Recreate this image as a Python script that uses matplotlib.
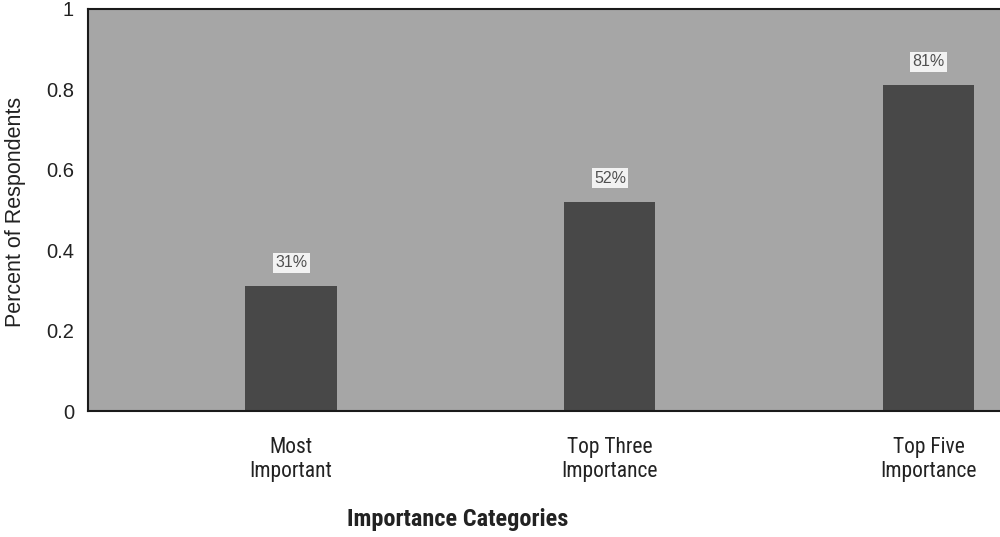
import matplotlib
matplotlib.use("Agg")
import matplotlib.pyplot as plt

categories = ["Most\nImportant", "Top Three\nImportance", "Top Five\nImportance"]
shares = [0.31, 0.52, 0.81]
share_labels = ["31%", "52%", "81%"]
y_ticks = [0, 0.2, 0.4, 0.6, 0.8, 1]
y_tick_labels = ["0", "0.2", "0.4", "0.6", "0.8", "1"]

SANS = ["Liberation Sans", "DejaVu Sans"]
NARROW = ["Roboto Condensed", "Liberation Sans", "DejaVu Sans"]
plt.rcParams["font.family"] = SANS

fig = plt.figure(figsize=(10, 5.37), dpi=100)
ax = fig.add_axes([0.088, 0.2346, 0.915, 0.749])
ax.set_facecolor("#a6a6a6")

x = list(range(len(categories)))
ax.bar(x, shares, width=0.286, color="#484848", zorder=2)

for xi, v, lab in zip(x, shares, share_labels):
    ax.annotate(lab, (xi, v), xytext=(0, 17), textcoords="offset points",
                ha="center", va="center", fontsize=11.5, color="#505050",
                family=SANS,
                bbox=dict(boxstyle="square,pad=0.15", fc="#f2f2f2", ec="none"),
                zorder=3)

ax.set_xlim(-0.637, 2.233)
ax.set_ylim(0, 1)
ax.set_yticks(y_ticks)
ax.set_yticklabels(y_tick_labels, fontsize=14.5, family=SANS)
ax.set_xticks(x)
ax.set_xticklabels(categories, fontsize=15.5, family=NARROW, linespacing=1.15)
ax.tick_params(axis="both", length=0, colors="#222222")
ax.tick_params(axis="y", pad=10)
ax.tick_params(axis="x", pad=19)

for side in ("left", "top", "bottom"):
    ax.spines[side].set_linewidth(1.5)
    ax.spines[side].set_color("#1a1a1a")
ax.spines["right"].set_visible(False)

fig.text(0.016, 0.606, "Percent of Respondents", rotation=90, ha="center",
         va="center", fontsize=15.5, color="#222222", family=SANS)
fig.text(0.458, 0.032, "Importance Categories", ha="center", va="center",
         fontsize=17.5, fontweight="bold", family=NARROW, color="#222222")

fig.savefig("out.png", dpi=100)
